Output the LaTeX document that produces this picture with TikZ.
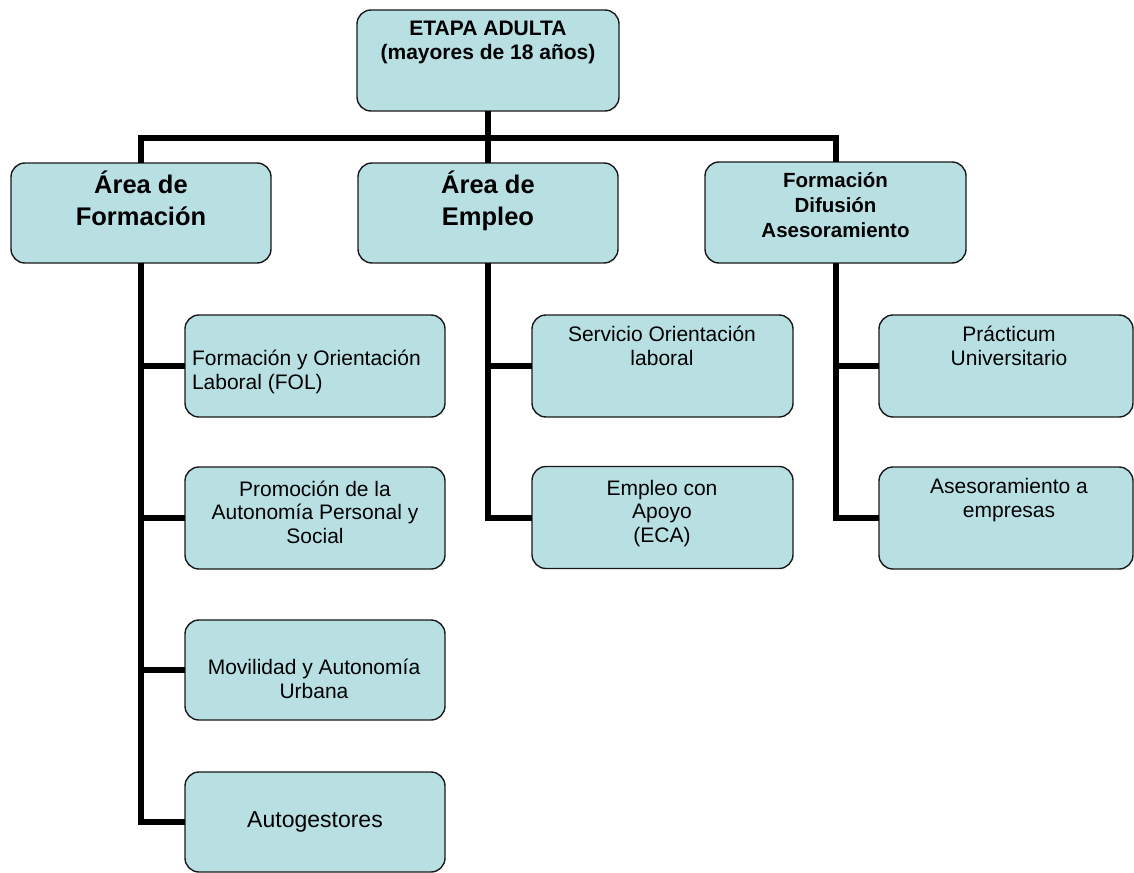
\documentclass[tikz,border=0pt]{standalone}
\usepackage{fontspec}
\setmainfont{Liberation Sans}
\definecolor{boxfill}{RGB}{184,224,227}
\definecolor{boxline}{RGB}{25,25,25}
\tikzset{
  box/.style={draw=boxline, line width=1.4pt, fill=boxfill, rounded corners=14pt,
    minimum width=260pt, minimum height=102pt, inner sep=0pt, outer sep=0pt},
  conn/.style={line width=6pt, line join=miter, draw=black},
  txt/.style={inner sep=0pt, outer sep=0pt, align=center, anchor=base},
  subtxt/.style={txt, font=\fontsize{21}{23.5}\selectfont},
  areatxt/.style={txt, font=\fontsize{25.5}{32}\selectfont\bfseries},
}
\begin{document}
\begin{tikzpicture}[x=1pt,y=-1pt]
\useasboundingbox (0,0) rectangle (1134,872);
% boxes
\node[box, minimum width=262pt, minimum height=101pt] (top) at (488,60.5) {};
\node[box, minimum height=100pt] (areaF) at (141,213) {};
\node[box, minimum height=100pt] (areaE) at (488,213) {};
\node[box, minimum width=261pt, minimum height=101pt] (areaD) at (835.5,212.5) {};
\node[box] (s1) at (315,366) {};
\node[box] (s2) at (315,518) {};
\node[box, minimum height=100pt] (s3) at (315,670) {};
\node[box, minimum height=100pt] (s4) at (315,822) {};
\node[box, minimum width=261pt] (e1) at (662.5,366) {};
\node[box, minimum width=261pt] (e2) at (662.5,517.5) {};
\node[box, minimum width=254pt] (d1) at (1006,366) {};
\node[box, minimum width=254pt] (d2) at (1006,518) {};
% connectors
\coordinate (bus) at (488,138);
\draw[conn] (top.south) -- (areaE.north);
\draw[conn] (areaF.north) -- (areaF.north |- bus) -- (areaD.north |- bus) -- (areaD.north);
\draw[conn] (areaF.south) -- (areaF.south |- s4.west) -- (s4.west);
\draw[conn] (areaF.south |- s1.west) -- (s1.west);
\draw[conn] (areaF.south |- s2.west) -- (s2.west);
\draw[conn] (areaF.south |- s3.west) -- (s3.west);
\draw[conn] (areaE.south) -- (areaE.south |- e2.west) -- (e2.west);
\draw[conn] (areaE.south |- e1.west) -- (e1.west);
\draw[conn] (areaD.south) -- (areaD.south |- d2.west) -- (d2.west);
\draw[conn] (areaD.south |- d1.west) -- (d1.west);
% texts (anchor = baseline of the last line)
\node[txt, font=\fontsize{21}{24}\selectfont\bfseries] (ttop) at (488,60) {ETAPA ADULTA\\(mayores de 18 años)};
\node[areatxt] (tareaF) at (141,225) {Área de\\Formación};
\node[areatxt] (tareaE) at (488,225) {Área de\\Empleo};
\node[txt, font=\fontsize{20.5}{25}\selectfont\bfseries] (tareaD) at (835.5,237) {Formación\\Difusión\\Asesoramiento};
\node[subtxt, align=left, anchor=base west] (ts1) at (192,389) {Formación y Orientación\\Laboral (FOL)};
\node[subtxt] (ts2) at (315,543) {Promoción de la\\Autonomía Personal y\\Social};
\node[subtxt] (ts3) at (314,698) {Movilidad y Autonomía\\Urbana};
\node[txt, font=\fontsize{23}{26}\selectfont] (ts4) at (315,827) {Autogestores};
\node[subtxt] (te1) at (662,365) {Servicio Orientación\\laboral};
\node[subtxt] (te2) at (662,542) {Empleo con\\Apoyo\\(ECA)};
\node[subtxt] (td1) at (1009,365) {Prácticum\\Universitario};
\node[subtxt] (td2) at (1009,517) {Asesoramiento a\\empresas};
\end{tikzpicture}
\end{document}
